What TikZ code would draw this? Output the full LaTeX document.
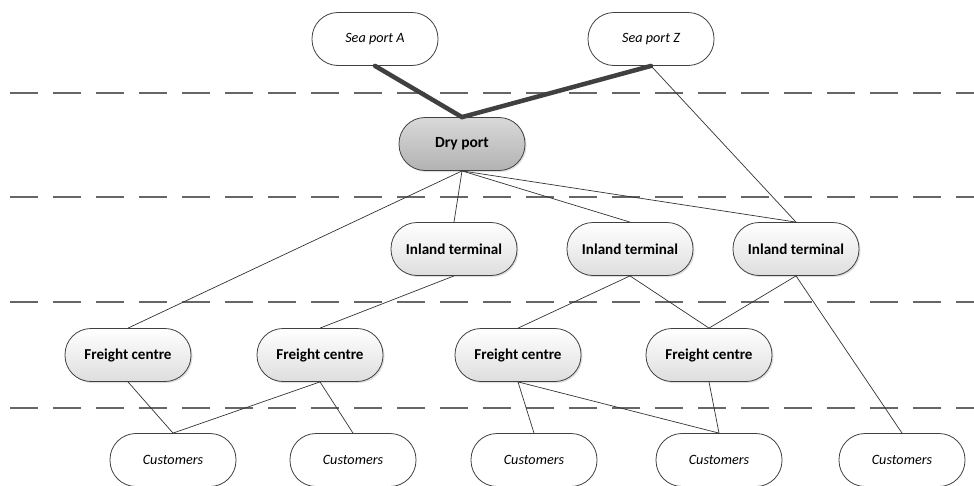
\documentclass[tikz,border=0pt]{standalone}
\usepackage{fontspec}
\setmainfont{Carlito}
\usetikzlibrary{shadows}
\begin{document}
\begin{tikzpicture}[x=1pt,y=-1pt,
  box/.style={draw=black!75, line width=0.8pt, rounded corners=26pt, minimum width=126pt, minimum height=53pt, inner sep=0pt},
  outer/.style={box, fill=white, font=\fontsize{14.2}{17}\selectfont\itshape},
  mid/.style={box, top color=white, bottom color=black!13, font=\fontsize{15.1}{18}\selectfont\bfseries, drop shadow={opacity=0.25, shadow xshift=1.5pt, shadow yshift=-1.5pt}},
  dry/.style={box, top color=black!15, bottom color=black!30, font=\fontsize{15.5}{18}\selectfont\bfseries, drop shadow={opacity=0.25, shadow xshift=1.5pt, shadow yshift=-1.5pt}},
  sep/.style={draw=black!60, line width=2pt, dash pattern=on 28pt off 15pt},
  link/.style={draw=black!80, line width=0.7pt},
  heavy/.style={draw=black!75, line width=4.5pt, line cap=round}]
\useasboundingbox (0,0) rectangle (974,485);
% separators
\foreach \y/\n in {93/a,197/b,302/c,408/d}{
  \coordinate (s\n1) at (10,\y);
  \coordinate (s\n2) at (974,\y);
  \draw[sep] (s\n1) -- (s\n2);
}
% nodes
\node[outer] (spa) at (375,39) {Sea port A};
\node[outer] (spz) at (651,39) {Sea port Z};
\node[dry] (dp) at (462,144) {Dry port};
\node[mid] (it1) at (454,249) {Inland terminal};
\node[mid] (it2) at (630,249) {Inland terminal};
\node[mid] (it3) at (796,249) {Inland terminal};
\node[mid] (fc1) at (128,355) {Freight centre};
\node[mid] (fc2) at (320,355) {Freight centre};
\node[mid] (fc3) at (518,355) {Freight centre};
\node[mid] (fc4) at (709,355) {Freight centre};
\node[outer] (c1) at (173,460) {Customers};
\node[outer] (c2) at (353,460) {Customers};
\node[outer] (c3) at (534,460) {Customers};
\node[outer] (c4) at (719,460) {Customers};
\node[outer] (c5) at (902,460) {Customers};
% connectors
\draw[heavy] (spa.south) -- (dp.north);
\draw[heavy] (spz.south) -- (dp.north);
\draw[link] (spz.south) -- (it3.north);
\draw[link] (dp.south) -- (fc1.north);
\draw[link] (dp.south) -- (it1.north);
\draw[link] (dp.south) -- (it2.north);
\draw[link] (dp.south) -- (it3.north);
\draw[link] (it1.south) -- (fc2.north);
\draw[link] (it2.south) -- (fc3.north);
\draw[link] (it2.south) -- (fc4.north);
\draw[link] (it3.south) -- (fc4.north);
\draw[link] (it3.south) -- (c5.north);
\draw[link] (fc1.south) -- (c1.north);
\draw[link] (fc2.south) -- (c1.north);
\draw[link] (fc2.south) -- (c2.north);
\draw[link] (fc3.south) -- (c3.north);
\draw[link] (fc3.south) -- (c4.north);
\draw[link] (fc4.south) -- (c4.north);
\end{tikzpicture}
\end{document}
